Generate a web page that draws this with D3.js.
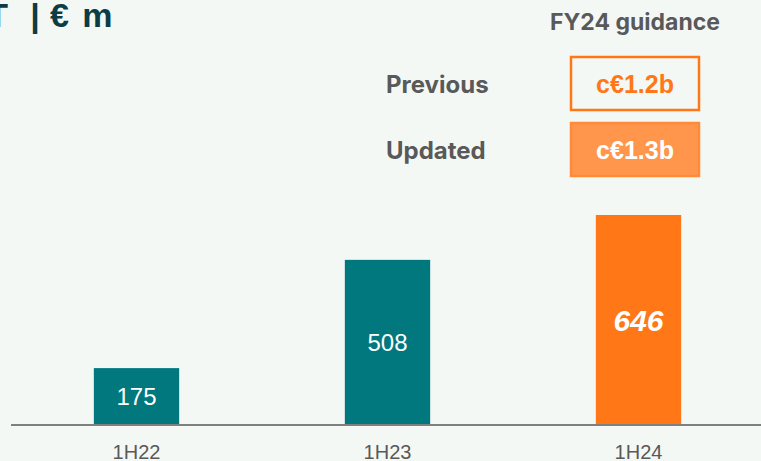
<!DOCTYPE html>
<html>
<head>
<meta charset="utf-8">
<script src="https://cdn.jsdelivr.net/npm/d3@7"></script>
<style>
  html, body { margin: 0; padding: 0; background: #f4f8f5; }
  svg { display: block; }
</style>
</head>
<body>
<script>
var periods = ["1H22", "1H23", "1H24"];
var ebit = [175, 508, 646];
var guidanceRows = ["Previous", "Updated"];
var guidanceValues = ["c€1.2b", "c€1.3b"];

var W = 761, H = 461;
var baseY = 425;

var svg = d3.select("body").append("svg")
    .attr("width", W)
    .attr("height", H);

svg.append("rect").attr("width", W).attr("height", H).attr("fill", "#f4f8f5");

var x = d3.scaleBand()
    .domain(periods)
    .range([11, 764])
    .paddingInner(0.66)
    .paddingOuter(0.33);

var y = d3.scaleLinear()
    .domain([0, 646])
    .range([baseY, 215]);

// title (cut off at left edge like the slide)
var title = svg.append("g")
    .attr("font-family", "Liberation Sans, Arial, sans-serif")
    .attr("font-weight", "bold")
    .attr("font-size", "34px")
    .attr("fill", "#0d3c45");
title.append("text").attr("x", 8).attr("y", 27).attr("text-anchor", "end").text("EBIT");
title.append("text").attr("x", 35).attr("y", 27).attr("text-anchor", "middle").text("|");
title.append("text").attr("x", 50).attr("y", 27).attr("letter-spacing", "2px").text("€ m");

// bars
svg.selectAll("rect.bar")
    .data(ebit)
    .enter()
    .append("rect")
    .attr("class", "bar")
    .attr("x", function (d, i) { return x(periods[i]); })
    .attr("y", function (d) { return y(d); })
    .attr("width", x.bandwidth())
    .attr("height", function (d) { return baseY - y(d); })
    .attr("fill", function (d, i) { return i == 2 ? "#ff7716" : "#00787e"; });

// value labels
svg.selectAll("text.val")
    .data(ebit)
    .enter()
    .append("text")
    .attr("class", "val")
    .attr("x", function (d, i) { return x(periods[i]) + x.bandwidth() / 2; })
    .attr("y", function (d) { return (y(d) + baseY) / 2; })
    .attr("dy", "0.36em")
    .attr("text-anchor", "middle")
    .attr("font-family", "Liberation Sans, Arial, sans-serif")
    .attr("font-size", function (d, i) { return i == 2 ? "30px" : "24px"; })
    .attr("font-weight", function (d, i) { return i == 2 ? "bold" : "normal"; })
    .attr("font-style", function (d, i) { return i == 2 ? "italic" : "normal"; })
    .attr("fill", "#ffffff")
    .text(function (d) { return d; });

// axis
var axis = svg.append("g")
    .attr("transform", "translate(0," + baseY + ")")
    .call(d3.axisBottom(x).tickSize(0).tickPadding(20));
axis.select(".domain").attr("d", "M11,0H" + W).attr("stroke", "#808080").attr("stroke-width", 2);
axis.selectAll("text")
    .attr("font-family", "Liberation Sans, Arial, sans-serif")
    .attr("font-size", "20px")
    .attr("fill", "#595959");

// guidance panel
var gx = 571, gw = 128, gh = 53;
var rowY = [57, 123];

svg.append("text")
    .attr("x", gx + gw / 2)
    .attr("y", 30)
    .attr("text-anchor", "middle")
    .attr("font-family", "Inter, sans-serif")
    .attr("font-weight", "bold")
    .attr("font-size", "23px")
    .attr("fill", "#595959")
    .text("FY24 guidance");

svg.selectAll("text.row")
    .data(guidanceRows)
    .enter()
    .append("text")
    .attr("class", "row")
    .attr("x", 386)
    .attr("y", function (d, i) { return rowY[i] + gh / 2 + 1; })
    .attr("dy", "0.36em")
    .attr("font-family", "Inter, sans-serif")
    .attr("font-weight", "bold")
    .attr("font-size", "24px")
    .attr("fill", "#595959")
    .text(function (d) { return d; });

svg.selectAll("rect.gbox")
    .data(guidanceValues)
    .enter()
    .append("rect")
    .attr("class", "gbox")
    .attr("x", gx)
    .attr("y", function (d, i) { return rowY[i]; })
    .attr("width", gw)
    .attr("height", gh)
    .attr("fill", function (d, i) { return i == 0 ? "none" : "#ff964c"; })
    .attr("stroke", function (d, i) { return i == 0 ? "#ff7716" : "#ff8a38"; })
    .attr("stroke-width", 2.5);

svg.selectAll("text.gval")
    .data(guidanceValues)
    .enter()
    .append("text")
    .attr("class", "gval")
    .attr("x", gx + gw / 2)
    .attr("y", function (d, i) { return rowY[i] + gh / 2; })
    .attr("dy", "0.36em")
    .attr("text-anchor", "middle")
    .attr("font-family", "Liberation Sans, Arial, sans-serif")
    .attr("font-weight", "bold")
    .attr("font-size", "25px")
    .attr("fill", function (d, i) { return i == 0 ? "#ff7716" : "#ffffff"; })
    .text(function (d) { return d; });
</script>
</body>
</html>
